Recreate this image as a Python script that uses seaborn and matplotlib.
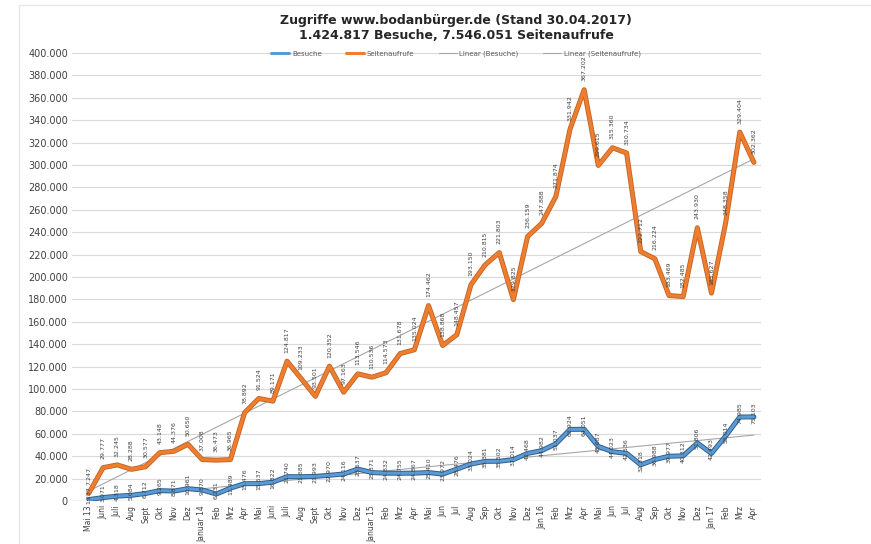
import numpy as np
import pandas as pd
import matplotlib
matplotlib.use("Agg")
import matplotlib.pyplot as plt
import seaborn as sns
from matplotlib.patches import Rectangle
from matplotlib.lines import Line2D

months = ["Mai 13", "Juni", "Juli", "Aug", "Sept", "Okt", "Nov", "Dez",
          "Januar 14", "Feb", "Mrz", "Apr", "Mai", "Juni", "Juli", "Aug",
          "Sept", "Okt", "Nov", "Dez", "Januar 15", "Feb", "Mrz", "Apr",
          "Mai", "Jun", "Jul", "Aug", "Sep", "Okt", "Nov", "Dez",
          "Jan 16", "Feb", "Mrz", "Apr", "Mai", "Jun", "Jul", "Aug",
          "Sep", "Okt", "Nov", "Dez", "Jan 17", "Feb", "Mrz", "Apr"]

seitenaufrufe = [7247, 29777, 32245, 28288, 30577, 43148, 44376, 50650,
                 37008, 36473, 36965, 78892, 91524, 89171, 124817, 109233,
                 93501, 120352, 97163, 113546, 110536, 114573, 131678, 135024,
                 174462, 138868, 148457, 193150, 210815, 221803, 179825, 236159,
                 247888, 271874, 331942, 367202, 299615, 315360, 310734, 222712,
                 216224, 183469, 182485, 243930, 185627, 248358, 329404, 302362]

besuche = [1287, 3071, 4318, 5084, 6712, 9265, 8871, 10961,
           9870, 6231, 11489, 15476, 15537, 16822, 21740, 21685,
           21993, 22970, 24116, 28537, 25371, 24832, 24755, 24867,
           25410, 23972, 28476, 33024, 35381, 35502, 37014, 42468,
           44982, 51037, 63924, 64051, 48687, 44023, 42536, 32318,
           36988, 39977, 40312, 51806, 42493, 58014, 74985, 75103]

title_text = "Zugriffe www.bodanbürger.de (Stand 30.04.2017)\n1.424.817 Besuche, 7.546.051 Seitenaufrufe"
legend_labels = ["Besuche", "Seitenaufrufe", "Linear (Besuche)", "Linear (Seitenaufrufe)"]

def fmt(v):
    return f"{int(v):,}".replace(",", ".")

x = np.arange(len(months))
df = pd.DataFrame({"idx": x, "Besuche": besuche, "Seitenaufrufe": seitenaufrufe})

# linear trendlines (least squares, like Excel)
pb = np.polyfit(x, besuche, 1)
ps = np.polyfit(x, seitenaufrufe, 1)
df["Linear (Besuche)"] = np.polyval(pb, x)
df["Linear (Seitenaufrufe)"] = np.polyval(ps, x)

sns.set_theme(style="white")
plt.rcParams["font.family"] = ["DejaVu Sans"]

fig = plt.figure(figsize=(8.71, 5.44), dpi=100)
ax = fig.add_axes([72/871, 1-501/544, (761-72)/871, (501-53)/544])

# faint frame around picture
fig.patches.append(Rectangle((19/871, -0.1), 1.2, 1-5/544+0.1, transform=fig.transFigure,
                             fill=False, edgecolor="#E6E6E6", linewidth=1.0))

for yv in range(20000, 400001, 20000):
    ax.axhline(yv, color="#D9D9D9", linewidth=0.8, zorder=0)
ax.axhline(0, color="#BFBFBF", linewidth=1.0, zorder=0)

sns.lineplot(data=df, x="idx", y="Linear (Besuche)", ax=ax, color="#A6A6A6", linewidth=0.8, zorder=2)
sns.lineplot(data=df, x="idx", y="Linear (Seitenaufrufe)", ax=ax, color="#A6A6A6", linewidth=0.8, zorder=2)

sns.lineplot(data=df, x="idx", y="Besuche", ax=ax, color="#2E5F8E", linewidth=3.6, zorder=3)
sns.lineplot(data=df, x="idx", y="Besuche", ax=ax, color="#5B9BD5", linewidth=2.2, zorder=4)
sns.lineplot(data=df, x="idx", y="Seitenaufrufe", ax=ax, color="#C5621E", linewidth=3.6, zorder=3)
sns.lineplot(data=df, x="idx", y="Seitenaufrufe", ax=ax, color="#ED7D31", linewidth=2.4, zorder=4)

for xi, v in zip(x, seitenaufrufe):
    ax.annotate(fmt(v), (xi, v), xytext=(0, 6), textcoords="offset points",
                rotation=90, ha="center", va="bottom", fontsize=4.5, color="#404040", zorder=5)
for xi, v in zip(x, besuche):
    ax.annotate(fmt(v), (xi, v), xytext=(0, 3), textcoords="offset points",
                rotation=90, ha="center", va="center", fontsize=4.5, color="#404040", zorder=5)

ax.set_xlim(-1.2, 47.5)
ax.set_ylim(0, 400000)
ax.set_yticks(range(0, 400001, 20000))
ax.set_yticklabels([fmt(v) for v in range(0, 400001, 20000)], fontsize=7, color="#404040")
ax.set_xticks(x)
ax.set_xticklabels(months, rotation=90, fontsize=5.5, color="#404040")
ax.tick_params(axis="both", length=0, pad=3)
ax.set_xlabel("")
ax.set_ylabel("")
for s in ax.spines.values():
    s.set_visible(False)

fig.text(456/871, 1-28/544, title_text, ha="center", va="center", fontsize=9,
         fontweight="bold", color="#262626", linespacing=1.15)

handles = [Line2D([], [], color="#5B9BD5", linewidth=2.2),
           Line2D([], [], color="#ED7D31", linewidth=2.2),
           Line2D([], [], color="#A6A6A6", linewidth=0.8),
           Line2D([], [], color="#A6A6A6", linewidth=0.8)]
fig.legend(handles, legend_labels, loc="center", bbox_to_anchor=(456/871, 1-54/544), ncol=4,
           frameon=False, fontsize=5, handlelength=2.6, columnspacing=3.5,
           handletextpad=0.4, labelcolor="#595959")

fig.savefig("out.png", dpi=100, facecolor="white")
